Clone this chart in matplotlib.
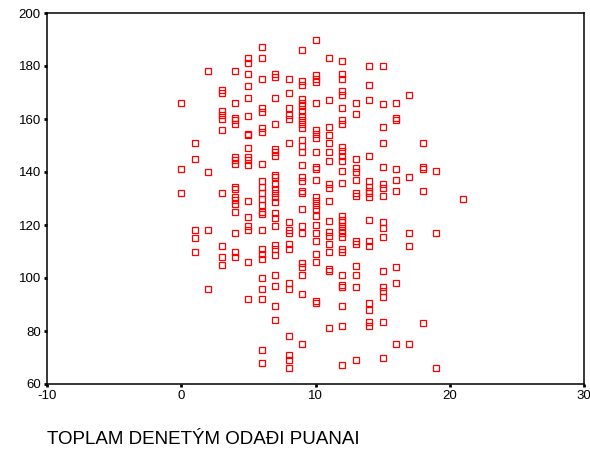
import matplotlib
matplotlib.use("Agg")
import matplotlib.pyplot as plt

plt.rcParams['font.family'] = ['Liberation Sans', 'DejaVu Sans']

# Values of the second variable for each integer score on the x axis
y_at_0 = [166, 141, 132]
y_at_1 = [151, 145, 118, 115, 110]
y_at_2 = [178, 140, 118, 96]
y_at_3 = [171, 170, 163, 161.5, 160, 156, 132, 112, 108, 105]
y_at_4 = [178, 166, 160.5, 159.5, 158, 145.5, 144.5, 143, 134.5, 133.5, 130.5, 129.5,
          128, 125, 117, 110, 108]
y_at_5 = [183, 181, 177, 172.5, 168, 161, 154.5, 154, 149, 145.5, 144.5, 142.5, 129,
          123, 119.5, 118, 106, 92]
y_at_6 = [187, 183, 175, 164, 162.5, 156.5, 155, 143, 136.5, 134.5, 132, 130, 127.5,
          125, 124, 118, 111, 109, 107, 100, 96, 92, 73, 68]
y_at_7 = [177, 176, 168, 158, 148.5, 147.5, 146, 139, 138, 135.5, 133.5, 132, 130.5,
          128.5, 124.5, 122.5, 119.5, 112.5, 111, 108.5, 101, 97, 89.5, 84]
y_at_8 = [175, 170, 164, 161.5, 160, 151, 121, 118, 117, 113, 111, 98, 96, 78, 71, 69, 66]
y_at_9 = [186, 174.5, 173, 167.5, 166, 165, 163, 161, 159.5, 158, 156.5, 152, 150, 147.5,
          142.5, 138, 136.5, 133, 132, 126, 119.5, 117, 105.5, 104, 101, 94, 75]
y_at_10 = [190, 176.5, 175, 174, 166, 156, 154.5, 153, 147.5, 142, 141, 137, 130.7, 129.2,
           127.7, 125.9, 123.4, 120, 117, 114, 109, 106, 91.5, 90.5]
y_at_11 = [183, 167, 157, 154, 151, 147.5, 144, 135.5, 134, 129, 121.5, 117.5, 116, 113,
           110, 103.5, 102.5, 81]
y_at_12 = [182, 177, 175, 170.5, 169, 164, 159.5, 158, 149.5, 148, 146, 144, 140.5, 136,
           123.5, 122, 121, 119.5, 118, 117, 115.5, 111, 110, 101, 97.5, 96.5, 89.5, 82, 67]
y_at_13 = [166, 162, 145, 141.5, 140, 137, 132, 131, 114, 113, 104.5, 101, 96.5, 69]
y_at_14 = [180, 173, 167, 146, 136.5, 134.5, 133, 132, 130.5, 122, 114, 112, 90.5, 88,
           83.5, 82]
y_at_15 = [180, 165.5, 157, 151, 142, 135.5, 134, 131, 121, 119, 115.5, 102.5, 96.5, 95,
           93, 83.5, 70]
y_at_16 = [166, 160.5, 159.5, 141, 137, 133, 104, 98, 75]
y_at_17 = [169, 138, 117, 112, 75]
y_at_18 = [151, 142, 141, 133, 83]
y_at_19 = [140.5, 117, 66]
y_at_21 = [130]

x_scores = [0, 1, 2, 3, 4, 5, 6, 7, 8, 9, 10, 11, 12, 13, 14, 15, 16, 17, 18, 19, 21]
y_groups = [y_at_0, y_at_1, y_at_2, y_at_3, y_at_4, y_at_5, y_at_6, y_at_7, y_at_8,
            y_at_9, y_at_10, y_at_11, y_at_12, y_at_13, y_at_14, y_at_15, y_at_16,
            y_at_17, y_at_18, y_at_19, y_at_21]

x_ticks = [-10, 0, 10, 20, 30]
y_ticks = [60, 80, 100, 120, 140, 160, 180, 200]
x_label = "TOPLAM DENETÝM ODAÐI PUANAI"

xs, ys = [], []
for xv, grp in zip(x_scores, y_groups):
    for yv in grp:
        xs.append(xv)
        ys.append(yv)

fig = plt.figure(figsize=(5.9, 4.5), dpi=100)
ax = fig.add_axes([47 / 590, 1 - 384 / 450, (584 - 47) / 590, (384 - 13) / 450])
ax.plot(xs, ys, linestyle='none', marker='s', markersize=4.3,
        markerfacecolor='none', markeredgecolor='#ff0000', markeredgewidth=0.9)

ax.set_xlim(-10, 30)
ax.set_ylim(60, 200)
ax.set_xticks(x_ticks)
ax.set_yticks(y_ticks)
ax.set_xticklabels([str(t) for t in x_ticks])
ax.set_yticklabels([str(t) for t in y_ticks])
for s in ax.spines.values():
    s.set_linewidth(1.1)
    s.set_color('black')
ax.tick_params(direction='out', length=2.5, width=2, labelsize=9.5, pad=2, colors='black')

fig.text(47 / 590, 1 - 439 / 450, x_label, fontsize=13.5, ha='left', va='center')

fig.savefig("out.png", dpi=100)
